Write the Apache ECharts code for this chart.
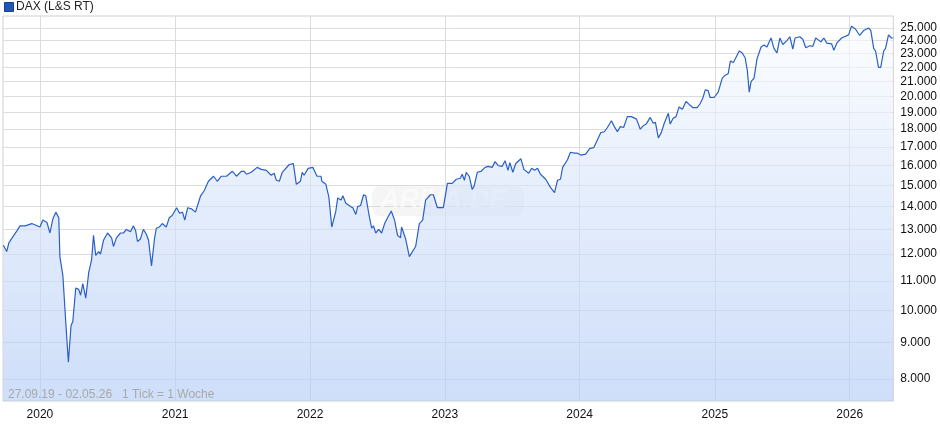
<!DOCTYPE html>
<html><head><meta charset="utf-8">
<script src="https://cdn.jsdelivr.net/npm/echarts@6/dist/echarts.min.js"></script>
<style>html,body{margin:0;padding:0;background:#fff}#c{width:940px;height:435px}</style>
</head><body><div id="c"></div>
<script>
const dates = ["2019-09-24","2019-10-03","2019-10-09","2019-10-20","2019-10-31","2019-11-08","2019-11-22","2019-12-10","2020-01-01","2020-01-09","2020-01-20","2020-01-28","2020-02-05","2020-02-13","2020-02-21","2020-02-24","2020-03-03","2020-03-11","2020-03-18","2020-03-25","2020-03-30","2020-04-07","2020-04-15","2020-04-20","2020-04-26","2020-05-04","2020-05-12","2020-05-20","2020-05-25","2020-05-31","2020-06-08","2020-06-13","2020-06-21","2020-07-02","2020-07-13","2020-07-18","2020-07-26","2020-08-06","2020-08-14","2020-08-22","2020-09-02","2020-09-10","2020-09-16","2020-09-21","2020-09-29","2020-10-07","2020-10-15","2020-10-21","2020-10-29","2020-11-06","2020-11-11","2020-11-19","2020-11-27","2020-12-08","2020-12-16","2020-12-24",
"2021-01-05","2021-01-13","2021-01-21","2021-01-27","2021-02-04","2021-02-14","2021-02-25","2021-03-11","2021-03-21","2021-04-01","2021-04-15","2021-04-25","2021-05-06","2021-05-20","2021-06-05","2021-06-16","2021-06-29","2021-07-07","2021-07-13","2021-07-26","2021-08-11","2021-08-22","2021-09-05","2021-09-18","2021-09-26","2021-10-02","2021-10-10","2021-10-18","2021-10-23","2021-11-06","2021-11-17","2021-11-25","2021-12-06","2021-12-11","2021-12-16","2021-12-27",
"2022-01-09","2022-01-14","2022-01-20","2022-01-31","2022-02-02","2022-02-13","2022-02-21","2022-03-01","2022-03-12","2022-03-17","2022-03-26","2022-03-31","2022-04-08","2022-04-21","2022-04-27","2022-05-05","2022-05-10","2022-05-18","2022-05-26","2022-06-01","2022-06-09","2022-06-17","2022-06-22","2022-06-28","2022-07-06","2022-07-14","2022-07-22","2022-07-30","2022-08-09","2022-08-18","2022-08-26","2022-09-03","2022-09-06","2022-09-17","2022-09-27","2022-10-14","2022-10-24","2022-11-02","2022-11-10","2022-11-23","2022-12-01","2022-12-12","2022-12-20","2022-12-28",
"2023-01-08","2023-01-21","2023-02-01","2023-02-12","2023-02-17","2023-02-23","2023-02-28","2023-03-08","2023-03-16","2023-03-21","2023-03-30","2023-04-09","2023-04-20","2023-04-28","2023-05-09","2023-05-17","2023-05-25","2023-06-05","2023-06-13","2023-06-21","2023-06-26","2023-07-04","2023-07-12","2023-07-26","2023-08-03","2023-08-08","2023-08-16","2023-08-24","2023-09-01","2023-09-09","2023-09-17","2023-10-01","2023-10-14","2023-10-25","2023-11-02","2023-11-10","2023-11-16","2023-11-21","2023-11-29","2023-12-07","2023-12-18","2023-12-26",
"2024-01-04","2024-01-09","2024-01-17","2024-01-28","2024-02-08","2024-02-16","2024-02-27","2024-03-08","2024-03-16","2024-03-27","2024-04-04","2024-04-12","2024-04-20","2024-04-29","2024-05-09","2024-05-20","2024-06-03","2024-06-13","2024-06-21","2024-06-29","2024-07-10","2024-07-18","2024-07-24","2024-08-01","2024-08-09","2024-08-17","2024-08-28","2024-09-02","2024-09-10","2024-09-18","2024-09-26","2024-10-05","2024-10-15","2024-10-26","2024-11-03","2024-11-14","2024-11-22","2024-11-30","2024-12-06","2024-12-14","2024-12-19","2024-12-30",
"2025-01-10","2025-01-21","2025-01-29","2025-02-06","2025-02-12","2025-02-20","2025-02-25","2025-03-08","2025-03-16","2025-03-24","2025-03-30","2025-04-04","2025-04-09","2025-04-17","2025-04-25","2025-05-06","2025-05-14","2025-05-22","2025-06-02","2025-06-10","2025-06-18","2025-06-26","2025-07-04","2025-07-15","2025-07-23","2025-07-31","2025-08-06","2025-08-19","2025-08-27","2025-09-04","2025-09-15","2025-09-23","2025-10-01","2025-10-15","2025-10-23","2025-10-31","2025-11-13","2025-11-19","2025-11-27","2025-12-10","2025-12-29",
"2026-01-06","2026-01-17","2026-01-28","2026-02-08","2026-02-21","2026-02-27","2026-03-07","2026-03-12","2026-03-20","2026-03-26","2026-04-03","2026-04-08","2026-04-16","2026-04-24","2026-04-29"];
const values = [12350,12100,12450,12700,12950,13150,13150,13250,13100,13400,13300,12850,13450,13750,13500,11900,11200,9600,8450,9500,9650,10750,10700,10500,10900,10400,11300,11800,12750,11950,12100,12000,12550,12850,12650,12300,12650,12850,12850,13000,12900,13150,12950,12500,12600,13000,12800,12550,11550,12600,13050,13100,13250,13100,13500,13600,
13950,13700,13750,13400,13950,13900,13750,14500,14750,15200,15450,15200,15450,15450,15700,15450,15700,15700,15550,15650,15900,15800,15750,15500,15600,15250,15200,15650,15600,16050,16100,15050,15200,15650,15500,15850,
15900,15950,15450,15450,15200,15050,14450,13100,13800,14400,14300,14500,14150,14000,13950,13650,14000,14050,14550,14500,13700,13050,13150,12850,13000,12850,13250,13500,13800,13400,12750,12650,13100,12600,11900,12300,13250,13400,14300,14550,14550,13950,13950,13950,
15100,15100,15300,15350,15550,15250,15650,15450,14800,14950,15650,15700,15900,15950,15900,16200,16000,15950,16250,15750,16150,15650,16100,16350,15800,15850,15600,15850,15750,15850,15550,15300,14900,14650,15250,15300,15900,16000,16300,16700,16650,16650,
16550,16600,16600,16900,16950,17300,17800,17850,18100,18500,18150,17850,18150,18100,18750,18750,18600,18000,18200,18300,18700,18350,18400,17500,17800,18350,18950,18300,18650,18750,19350,19200,19700,19450,19300,19300,19550,19950,20450,20400,19950,19950,
20300,21250,21450,21550,22450,22350,22600,23200,23050,22700,21750,20300,21000,21250,22600,23500,23650,23500,24200,23400,23050,24200,23700,24000,24300,23350,24200,24300,24100,23450,23600,23550,24200,23900,24200,23800,23750,23250,23800,24200,24450,
25150,24900,24400,24800,25000,24800,23400,23200,22000,22000,23200,23400,24450,24200,24200];
const yTicks = [8000,9000,10000,11000,12000,13000,14000,15000,16000,17000,18000,19000,20000,21000,22000,23000,24000,25000];
const xTicks = ["2020-01-01","2021-01-01","2022-01-01","2023-01-01","2024-01-01","2025-01-01","2026-01-01"];
const seriesName = "DAX (L&S RT)";
const rangeText = "27.09.19 - 02.05.26   1 Tick = 1 Woche";

const ts = d => Date.parse(d + "T00:00:00Z");
const xt = xTicks.map(ts);
const data = dates.map((d, i) => [ts(d), values[i]]);
const font = '"Liberation Sans", Arial';
const chart = echarts.init(document.getElementById('c'));
chart.setOption({
  animation: false,
  grid: {left: 3, right: 43, top: 16, bottom: 34, show: true, borderColor: '#d0d0d0', borderWidth: 1},
  graphic: [
    {type: 'rect', left: 4, top: 2, shape: {width: 9, height: 9}, style: {fill: '#1f56b8', stroke: '#1a3f86', lineWidth: 1}},
    {type: 'text', left: 16, top: 1, style: {text: seriesName, font: '12px ' + font, fill: '#222'}},
    {type: 'text', left: 8, top: 389, z: 10, style: {text: rangeText, font: '12px ' + font, fill: '#a8a8a8'}},
    {type: 'rect', left: 372, top: 186, z: 1, shape: {width: 152, height: 30, r: 8}, style: {fill: 'rgba(215,215,215,0.25)'}},
    {type: 'text', left: 380, top: 187, z: 1, style: {text: 'ARIVA.DE', font: 'italic bold 27px ' + font, fill: 'rgba(255,255,255,0.55)'}}
  ],
  xAxis: {
    type: 'value', min: ts("2019-09-23"), max: ts("2026-04-29"),
    axisLine: {show: false}, axisTick: {show: false, customValues: xt},
    axisLabel: {customValues: xt, formatter: v => String(new Date(v).getUTCFullYear()), color: '#111', fontSize: 12, fontFamily: font, margin: 8},
    splitLine: {show: true, lineStyle: {color: '#dcdcdc', width: 1}}
  },
  yAxis: {
    type: 'log', position: 'right', min: 7448, max: 25993,
    axisLine: {show: false}, axisTick: {show: false, customValues: yTicks},
    axisLabel: {customValues: yTicks, formatter: v => Math.round(v).toLocaleString('de-DE'), color: '#111', fontSize: 12, fontFamily: font, margin: 7},
    splitLine: {show: true, lineStyle: {color: '#dcdcdc', width: 1}}
  },
  series: [{
    type: 'line', name: seriesName, data: data, showSymbol: false, z: 3,
    lineStyle: {color: '#2a60c6', width: 1.2},
    areaStyle: {origin: 'start', color: new echarts.graphic.LinearGradient(0, 0, 0, 1, [{offset: 0, color: 'rgba(251,253,255,0.9)'}, {offset: 0.5, color: 'rgba(210,225,250,0.9)'}, {offset: 1, color: 'rgba(180,204,246,0.92)'}])}
  }]
});
</script></body></html>
